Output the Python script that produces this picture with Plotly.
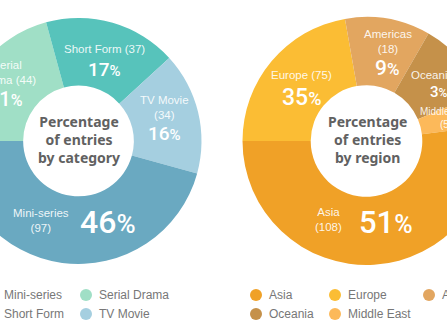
import plotly.graph_objects as go

# ---------------- data ----------------
# left donut, slices listed clockwise starting at 9 o'clock
category_names = ["Serial Drama", "Short Form", "TV Movie", "Mini-series"]
category_counts = [44, 37, 34, 97]
category_pct = [21, 17, 16, 46]
category_colors = ["#a0dfc6", "#57c3bb", "#a5cfe0", "#6aa9c1"]
category_legend = ["Mini-series", "Serial Drama", "Short Form", "TV Movie"]

# right donut, slices listed clockwise starting at 9 o'clock
region_names = ["Europe", "Americas", "Oceania", "Middle East", "Asia"]
region_counts = [75, 18, 6, 5, 108]
region_pct = [35, 9, 3, 2, 51]
# slice sizes as they are drawn in the source graphic (share of the ring, %)
region_slice_share = [22.2, 11.1, 10.3, 4.4, 51.9]
region_colors = ["#fbbd34", "#e2a660", "#c5914a", "#fcb95a", "#f0a127"]
region_legend = ["Asia", "Europe", "Americas", "Oceania", "Middle East"]

# ---------------- layout helpers ----------------
W, H, OFF = 580, 332, 60          # figure size, visible window starts OFF px in


def X(xw):
    return (xw + OFF) / W


def Y(yw):
    return 1 - yw / H


SANS = "Liberation Sans, Arial, sans-serif"
NARROW = "Noto Sans, Liberation Sans, sans-serif"
PCTF = "Roboto, Liberation Sans, sans-serif"

fig = go.Figure()

fig.add_trace(go.Pie(
    labels=category_names, values=category_counts, sort=False,
    direction="clockwise", rotation=270, hole=0.45,
    marker=dict(colors=category_colors, line=dict(width=0)),
    textinfo="none", hoverinfo="label+value", showlegend=False,
    domain=dict(x=[X(78.5 - 123), X(78.5 + 123)], y=[Y(264), Y(18)]),
))

fig.add_trace(go.Pie(
    labels=region_names, values=region_slice_share, sort=False,
    direction="clockwise", rotation=270, hole=0.45,
    marker=dict(colors=region_colors, line=dict(width=0)),
    textinfo="none", customdata=region_counts,
    hovertemplate="%{label}: %{customdata}<extra></extra>", showlegend=False,
    domain=dict(x=[X(366.5 - 124), X(366.5 + 124)], y=[Y(265), Y(17)]),
))

anns = []
shapes = []


def ann(text, xw, yw, size, family=SANS, color="white", weight=None,
        xanchor="center"):
    f = dict(size=size, family=family, color=color)
    if weight:
        f["weight"] = weight
    anns.append(dict(text=text, x=X(xw), y=Y(yw), xref="paper", yref="paper",
                     showarrow=False, font=f, xanchor=xanchor, yanchor="middle",
                     align="center"))


def pct(v, size):
    return f"{v}<span style='font-size:{round(size*0.8)}px'>%</span>"


def condensed(lines):
    return "<br>".join(
        f"<span style='font-stretch:condensed;font-weight:bold'>{t}</span>" for t in lines)


cc = dict(zip(category_names, category_counts))
cp = dict(zip(category_names, category_pct))
rc = dict(zip(region_names, region_counts))
rp = dict(zip(region_names, region_pct))
NAMEC = "rgba(255,255,255,0.9)"
NS = 11.5

# left donut labels
ann(f"Mini-series<br>({cc['Mini-series']})", 41, 220, NS, color=NAMEC)
ann(pct(cp['Mini-series'], 32), 108, 222, 32, family=PCTF, weight=500)
ann(f"TV Movie<br>({cc['TV Movie']})", 164, 107.5, NS, color=NAMEC)
ann(pct(cp['TV Movie'], 19), 164, 133, 19, family=PCTF, weight=500)
ann(f"Short Form ({cc['Short Form']})", 104, 49, NS, color=NAMEC)
ann(pct(cp['Short Form'], 19), 104, 69, 19, family=PCTF, weight=500)
ann(f"Serial<br>Drama ({cc['Serial Drama']})", 7, 72.5, NS, color=NAMEC)
ann(pct(cp['Serial Drama'], 20), 5, 99, 20, family=PCTF, weight=500)

# right donut labels
ann(f"Asia<br>({rc['Asia']})", 328, 219.5, NS, color=NAMEC)
ann(pct(rp['Asia'], 31), 386, 222, 31, family=PCTF, weight=500)
ann(f"Europe ({rc['Europe']})", 301, 75, NS, color=NAMEC)
ann(pct(rp['Europe'], 23), 301, 97, 23, family=PCTF, weight=500)
ann(f"Americas<br>({rc['Americas']})", 388, 41.5, NS, color=NAMEC)
ann(pct(rp['Americas'], 21), 387, 68, 21, family=PCTF, weight=500)
ann(f"Oceania ({rc['Oceania']})", 441, 75, NS, color=NAMEC)
ann(pct(rp['Oceania'], 15), 439, 92, 15, family=PCTF, weight=500)
ann(f"Middle East<br>({rc['Middle East']})", 446, 118, 10, color=NAMEC)

# centre titles
ann(condensed(["Percentage", "of entries", "by category"]), 78.5, 139, 14,
    family=NARROW, color="#616161")
ann(condensed(["Percentage", "of entries", "by region"]), 367, 139, 14,
    family=NARROW, color="#616161")


# legends
def legend(names, colors_by_name, cols_x, rows_y):
    for i, name in enumerate(names):
        cx = cols_x[i % len(cols_x)]
        cy = rows_y[i // len(cols_x)]
        shapes.append(dict(type="circle", xref="paper", yref="paper",
                           x0=X(cx - 6), x1=X(cx + 6), y0=Y(cy + 6), y1=Y(cy - 6),
                           fillcolor=colors_by_name[name], line=dict(width=0)))
        ann(name, cx + 11, cy, 12, color="#777777", xanchor="left")


legend(category_legend, dict(zip(category_names, category_colors)), [-9, 86], [295, 314])
legend(region_legend, dict(zip(region_names, region_colors)), [256, 335, 429], [295, 314])

fig.update_layout(
    width=W, height=H, margin=dict(l=0, r=0, t=0, b=0),
    paper_bgcolor="white", plot_bgcolor="white",
    annotations=anns, shapes=shapes, showlegend=False,
)

fig.write_html(
    "out.html",
    post_script=(
        "document.documentElement.style.overflow='hidden';"
        "document.body.style.margin='0';document.body.style.overflow='hidden';"
        "var d=document.getElementById('{plot_id}');"
        "d.style.position='relative';d.style.left='-" + str(OFF) + "px';"
    ),
)
